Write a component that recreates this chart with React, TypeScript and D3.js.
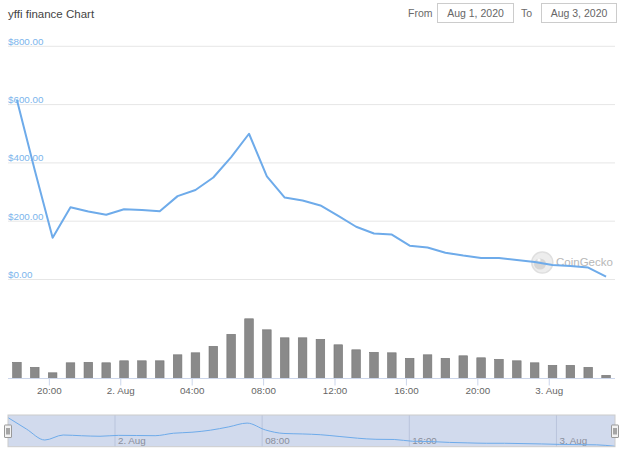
import React from "react";
import * as d3 from "d3";

const times: string[] = [
  "2020-08-01T18:11:00Z", "2020-08-01T19:11:00Z", "2020-08-01T20:11:00Z", "2020-08-01T21:11:00Z",
  "2020-08-01T22:11:00Z", "2020-08-01T23:11:00Z", "2020-08-02T00:11:00Z", "2020-08-02T01:11:00Z",
  "2020-08-02T02:11:00Z", "2020-08-02T03:11:00Z", "2020-08-02T04:11:00Z", "2020-08-02T05:11:00Z",
  "2020-08-02T06:11:00Z", "2020-08-02T07:11:00Z", "2020-08-02T08:11:00Z", "2020-08-02T09:11:00Z",
  "2020-08-02T10:11:00Z", "2020-08-02T11:11:00Z", "2020-08-02T12:11:00Z", "2020-08-02T13:11:00Z",
  "2020-08-02T14:11:00Z", "2020-08-02T15:11:00Z", "2020-08-02T16:11:00Z", "2020-08-02T17:11:00Z",
  "2020-08-02T18:11:00Z", "2020-08-02T19:11:00Z", "2020-08-02T20:11:00Z", "2020-08-02T21:11:00Z",
  "2020-08-02T22:11:00Z", "2020-08-02T23:11:00Z", "2020-08-03T00:11:00Z", "2020-08-03T01:11:00Z",
  "2020-08-03T02:11:00Z", "2020-08-03T03:11:00Z",
];

const prices: number[] = [
  616, 375, 143, 248, 233, 222, 241, 238, 234, 286, 307, 350, 420, 500, 354, 281, 271,
  254, 218, 181, 158, 154, 116, 110, 92, 82, 74, 74, 67, 60, 50, 46, 41, 10,
];

const volumes: number[] = [
  1.6, 1.1, 0.55, 1.55, 1.6, 1.55, 1.75, 1.75, 1.75, 2.35, 2.55, 3.2, 4.4, 5.95, 4.85, 4.05, 4.05,
  3.9, 3.35, 2.85, 2.6, 2.55, 2.0, 2.35, 2.0, 2.25, 2.05, 1.9, 1.75, 1.55, 1.3, 1.3, 1.1, 0.3,
];

const priceTicks: number[] = [0, 200, 400, 600, 800];

const title = "yffi finance Chart";
const fromLabel = "From";
const toLabel = "To";
const fromDate = "Aug 1, 2020";
const toDate = "Aug 3, 2020";
const watermark = "CoinGecko";

const FONT = "'Liberation Sans', Arial, sans-serif";

export default function App() {
  const dates = times.map((t) => new Date(t));
  const HOUR = 3600 * 1000;
  const left = 8;
  const right = 615;

  const x = d3
    .scaleUtc()
    .domain([new Date(dates[0].getTime() - HOUR / 2), new Date(dates[dates.length - 1].getTime() + HOUR / 2)])
    .range([left, right]);
  const y = d3.scaleLinear().domain([0, 800]).range([279.5, 46.3]);
  const yVol = d3.scaleLinear().domain([0, 7.8]).range([378.3, 300.3]);

  const xNav = d3.scaleUtc().domain([dates[0], dates[dates.length - 1]]).range([left, right]);
  const ext = d3.extent(prices) as [number, number];
  const yNav = d3.scaleLinear().domain(ext).range([446.3, 417.6]);

  const line = d3
    .line<number>()
    .x((_, i) => x(dates[i]))
    .y((d) => y(d));
  const navLine = d3
    .line<number>()
    .x((_, i) => xNav(dates[i]))
    .y((d) => yNav(d))
    .curve(d3.curveMonotoneX);

  const fmt = (d: Date) =>
    d.getUTCHours() === 0 && d.getUTCMinutes() === 0 ? d3.utcFormat("%-d. %b")(d) : d3.utcFormat("%H:%M")(d);

  const xTicks = x.ticks(d3.utcHour.every(4) as any);
  const navTicks = xNav.ticks(d3.utcHour.every(8) as any);

  const barW = 8.6;
  const navTop = 415;
  const navBot = 446.7;

  return (
    <svg
      width={624}
      height={451}
      style={{ position: "absolute", left: 0, top: 0, background: "#fff" }}
      fontFamily={FONT}
    >
      <rect x={0} y={0} width={624} height={451} fill="#fff" />
      {/* header */}
      <text x={8} y={18} fontSize={11.5} fill="#444">{title}</text>
      <text x={408} y={17} fontSize={10.5} fill="#6a6a6a">{fromLabel}</text>
      <rect x={437.5} y={3.5} width={76} height={19} fill="#fff" stroke="#cccccc" />
      <text x={475.5} y={17} fontSize={10.5} fill="#666" textAnchor="middle">{fromDate}</text>
      <text x={521} y={17} fontSize={10.5} fill="#6a6a6a">{toLabel}</text>
      <rect x={541.5} y={3.5} width={75} height={19} fill="#fff" stroke="#cccccc" />
      <text x={579} y={17} fontSize={10.5} fill="#666" textAnchor="middle">{toDate}</text>

      {/* price grid */}
      {priceTicks.map((t) => (
        <g key={t}>
          <line x1={left} x2={right} y1={y(t)} y2={y(t)} stroke="#e6e6e6" strokeWidth={1} />
          <text x={8} y={y(t) - 1.5} fontSize={9.8} fill="#7cb5ec">
            {"$" + d3.format(",.2f")(t)}
          </text>
        </g>
      ))}

      {/* watermark */}
      <g opacity={0.9}>
        <circle cx={542.3} cy={262.5} r={10.5} fill="#ececec" stroke="#dcdcdc" strokeWidth={1.5} />
        <ellipse cx={540} cy={264} rx={6} ry={5.5} fill="#d2d2d2" />
        <circle cx={539} cy={260} r={1.6} fill="#fafafa" />
        <text x={556} y={266} fontSize={11.5} fill="#b0b0b0">{watermark}</text>
      </g>

      {/* price line */}
      <path d={line(prices) || ""} fill="none" stroke="#6eabea" strokeWidth={2} strokeLinejoin="round" />

      {/* volume bars */}
      {volumes.map((v, i) => (
        <rect
          key={i}
          x={x(dates[i]) - barW / 2}
          y={yVol(v)}
          width={barW}
          height={yVol(0) - yVol(v)}
          fill="#8a8a8a"
          stroke="#747474"
          strokeWidth={0.6}
        />
      ))}

      {/* x axis */}
      <line x1={left} x2={right} y1={378.5} y2={378.5} stroke="#ccd6eb" strokeWidth={1} />
      {xTicks.map((t, i) => (
        <g key={i}>
          <line x1={x(t)} x2={x(t)} y1={378.5} y2={385.5} stroke="#ccd6eb" strokeWidth={1} />
          <text x={x(t)} y={393.5} fontSize={9.8} fill="#666" textAnchor="middle">
            {fmt(t)}
          </text>
        </g>
      ))}

      {/* navigator */}
      <rect x={left} y={navTop} width={right - left} height={navBot - navTop} fill="rgba(102,133,194,0.3)" />
      {navTicks.map((t, i) => (
        <g key={i}>
          <line x1={xNav(t)} x2={xNav(t)} y1={navTop} y2={navBot} stroke="#b9c4dc" strokeWidth={1} />
          <text x={xNav(t) + 3} y={444} fontSize={9.8} fill="#8a8f9c">
            {fmt(t)}
          </text>
        </g>
      ))}
      <path d={navLine(prices) || ""} fill="none" stroke="#6eabea" strokeWidth={1} />
      <rect x={left} y={navTop} width={right - left} height={navBot - navTop} fill="none" stroke="#cccccc" strokeWidth={1} />
      {[left, right].map((hx, i) => (
        <g key={i}>
          <rect x={hx - 3.5} y={425} width={7} height={12.5} fill="#f2f2f2" stroke="#999" strokeWidth={1} rx={0.5} />
          <line x1={hx - 1} x2={hx - 1} y1={428} y2={434.5} stroke="#333" strokeWidth={0.8} />
          <line x1={hx + 1} x2={hx + 1} y1={428} y2={434.5} stroke="#333" strokeWidth={0.8} />
        </g>
      ))}
    </svg>
  );
}
